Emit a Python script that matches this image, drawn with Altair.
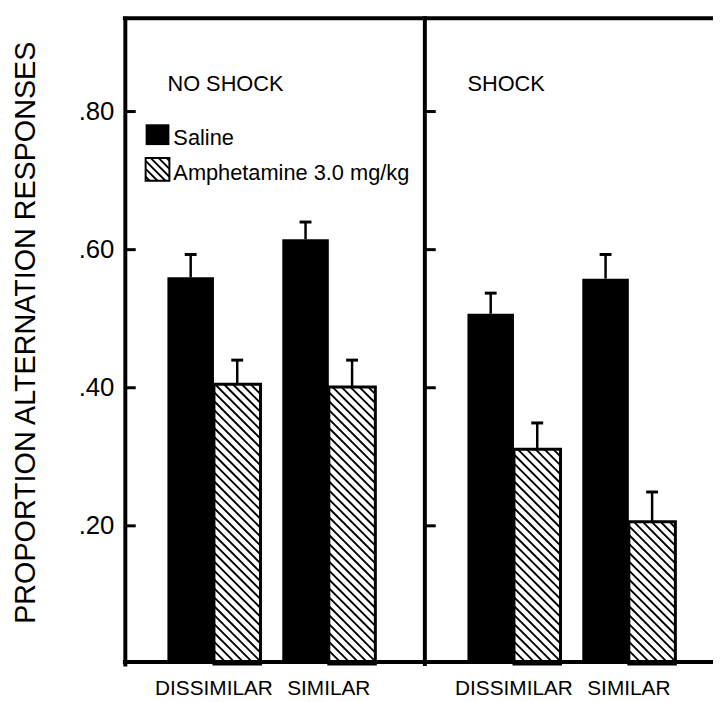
import altair as alt
import pandas as pd

# ---------------- data ----------------
panels = ["NO SHOCK", "SHOCK"]
conditions = ["DISSIMILAR", "SIMILAR"]
treatments = ["Saline", "Amphetamine 3.0 mg/kg"]

# order: NO SHOCK-DISSIMILAR, NO SHOCK-SIMILAR, SHOCK-DISSIMILAR, SHOCK-SIMILAR
saline_mean = [0.560, 0.615, 0.507, 0.558]
saline_upper = [0.593, 0.640, 0.537, 0.593]
amph_mean = [0.405, 0.401, 0.311, 0.206]
amph_upper = [0.440, 0.440, 0.349, 0.249]

y_ticks = [0.20, 0.40, 0.60, 0.80]
y_top = 0.935
y_title = "PROPORTION ALTERNATION RESPONSES"

# ---------------- layout / style constants ----------------
FONT = "Liberation Sans"
W, H = 594, 652
PANEL_W = 303
PAD_L = 43
BAR_W = 47
GAP = 22
CAP = 12
TICK_LEN = 11
HATCH = 9
KY = H / y_top


def py2v(py):
    """pixel row (from plot top) -> y data value"""
    return (H - py) / KY


LEG_X0, LEG_X1 = 21, 45
LEG_ROWS = [(107, 128, 128), (141, 164, 163)]  # (top, bottom, text baseline) in px

means = {treatments[0]: saline_mean, treatments[1]: amph_mean}
uppers = {treatments[0]: saline_upper, treatments[1]: amph_upper}

rows = []
for pi, panel in enumerate(panels):
    for ci, cond in enumerate(conditions):
        for ti, treat in enumerate(treatments):
            i = pi * len(conditions) + ci
            x0 = pi * PANEL_W + PAD_L + ci * (2 * BAR_W + GAP) + ti * BAR_W
            xc = x0 + BAR_W / 2
            rows.append({"panel": panel, "condition": cond, "treatment": treat,
                         "mean": means[treat][i], "upper": uppers[treat][i],
                         "base": 0.0, "x0": x0, "x1": x0 + BAR_W, "xc": xc,
                         "c0": xc - CAP / 2, "c1": xc + CAP / 2,
                         "gc": x0 + BAR_W})
bars = pd.DataFrame(rows)
saline = bars[bars.treatment == treatments[0]]
amph = bars[bars.treatment == treatments[1]]


def hatch_segments(w, h, step):
    segs = []
    c = step / 2
    while c < w + h:
        ua = max(0.0, c - h)
        ub = min(w, c)
        segs.append((ua, c - ua, ub, c - ub))
        c += step
    return segs


hrows = []
for _, r in amph.iterrows():
    for ua, ta, ub, tb in hatch_segments(BAR_W, r["mean"] * KY, HATCH):
        hrows.append({"hx": r.x0 + ua, "hy": ta / KY, "hx2": r.x0 + ub, "hy2": tb / KY})
# legend swatch hatch
l_top, l_bot, _ = LEG_ROWS[1]
for ua, ta, ub, tb in hatch_segments(LEG_X1 - LEG_X0, l_bot - l_top, 8):
    hrows.append({"hx": LEG_X0 + ua, "hy": py2v(l_bot - ta),
                  "hx2": LEG_X0 + ub, "hy2": py2v(l_bot - tb)})
hatch = pd.DataFrame(hrows)

# legend
leg = pd.DataFrame({"label": treatments,
                    "x0": [LEG_X0] * 2, "x1": [LEG_X1] * 2,
                    "y0": [py2v(r[0]) for r in LEG_ROWS], "y1": [py2v(r[1]) for r in LEG_ROWS],
                    "tx": [LEG_X1 + 4] * 2, "ty": [py2v(r[2]) for r in LEG_ROWS]})

# ---------------- chart ----------------
xs = alt.Scale(domain=[0, W], nice=False, zero=False)
ys = alt.Scale(domain=[0, y_top], nice=False, zero=False)


def X(f):
    return alt.X(f"{f}:Q", scale=xs, axis=None)


def Y(f):
    # axis left unspecified here so the explicit axis of the first layer is kept
    return alt.Y(f"{f}:Q", scale=ys)


yaxis = alt.Axis(values=y_ticks,
                 labelExpr="substring(format(datum.value, '.2f'), 1)",
                 domain=True, domainColor="black", domainWidth=4, domainCap="square",
                 ticks=False, grid=False,
                 labelFontSize=26, labelColor="black", labelPadding=11, labelFont=FONT,
                 title=y_title, titleFontSize=29, titleFontWeight="normal",
                 titleColor="black", titleFont=FONT, titleAngle=270,
                 titleX=-100, titleY=317, titleAlign="center", titleBaseline="middle")

sal_layer = alt.Chart(saline).mark_rect(color="black").encode(
    x=X("x0"), x2="x1",
    y=alt.Y("mean:Q", scale=ys, axis=yaxis, title=y_title), y2="base")

amph_fill = alt.Chart(amph).mark_rect(fill="white").encode(
    x=X("x0"), x2="x1", y=Y("mean"), y2="base")

hatch_layer = alt.Chart(hatch).mark_rule(color="black", strokeWidth=1.9).encode(
    x=X("hx"), x2="hx2", y=Y("hy"), y2="hy2")

amph_outline = alt.Chart(amph).mark_rect(fill="white", fillOpacity=0, stroke="black",
                                         strokeWidth=3).encode(
    x=X("x0"), x2="x1", y=Y("mean"), y2="base")

err_line = alt.Chart(bars).mark_rule(color="black", strokeWidth=2.5).encode(
    x=X("xc"), y=Y("mean"), y2="upper")

err_cap = alt.Chart(bars).mark_rule(color="black", strokeWidth=3).encode(
    x=X("c0"), x2="c1", y=Y("upper"))

one = pd.DataFrame({"a": [0]})
top_rule = alt.Chart(one).mark_rule(color="black", strokeWidth=4, strokeCap="square").encode(
    x=alt.value(0), x2=alt.value(W), y=alt.value(0))
bottom_rule = alt.Chart(one).mark_rule(color="black", strokeWidth=4, strokeCap="square").encode(
    x=alt.value(0), x2=alt.value(W), y=alt.value(H - 2))

div_df = pd.DataFrame({"x": [PANEL_W], "y0": [0.0], "y1": [y_top]})
divider = alt.Chart(div_df).mark_rule(color="black", strokeWidth=4, strokeCap="square").encode(
    x=X("x"), y=Y("y0"), y2="y1")

tick_df = pd.DataFrame([{"x0": pi * PANEL_W, "x1": pi * PANEL_W + TICK_LEN, "y": v}
                        for pi in range(len(panels)) for v in y_ticks])
ticks = alt.Chart(tick_df).mark_rule(color="black", strokeWidth=3).encode(
    x=X("x0"), x2="x1", y=Y("y"))

ptitle_df = pd.DataFrame({"panel": panels,
                          "x": [pi * PANEL_W + PAD_L for pi in range(len(panels))]})
ptitles = alt.Chart(ptitle_df).mark_text(align="left", baseline="alphabetic", fontSize=22,
                                         font=FONT, color="black").encode(
    x=X("x"), y=alt.value(73), text="panel:N")

cond_labels = alt.Chart(saline).mark_text(align="center", baseline="alphabetic", fontSize=21,
                                          font=FONT, color="black").encode(
    x=X("gc"), y=alt.value(683), text="condition:N")

leg_black = alt.Chart(leg[leg.label == treatments[0]]).mark_rect(color="black").encode(
    x=X("x0"), x2="x1", y=Y("y0"), y2="y1")
leg_white = alt.Chart(leg[leg.label == treatments[1]]).mark_rect(fill="white").encode(
    x=X("x0"), x2="x1", y=Y("y0"), y2="y1")
leg_outline = alt.Chart(leg[leg.label == treatments[1]]).mark_rect(
    fill="white", fillOpacity=0, stroke="black", strokeWidth=2).encode(
    x=X("x0"), x2="x1", y=Y("y0"), y2="y1")
leg_text = alt.Chart(leg).mark_text(align="left", baseline="alphabetic", fontSize=22,
                                    font=FONT, color="black").encode(
    x=X("tx"), y=Y("ty"), text="label:N")

chart = alt.layer(
    sal_layer, amph_fill, leg_black, leg_white, hatch_layer, amph_outline, leg_outline,
    err_line, err_cap, top_rule, bottom_rule, divider, ticks, ptitles, cond_labels,
    leg_text
).properties(
    width=W, height=H,
    padding={"left": 118, "top": 7, "right": 0, "bottom": 34},
    autosize=alt.AutoSizeParams(type="none"),
    background="white"
).configure(font=FONT).configure_view(stroke=None)

chart.save("out.html", embed_options={"renderer": "svg", "actions": False})
